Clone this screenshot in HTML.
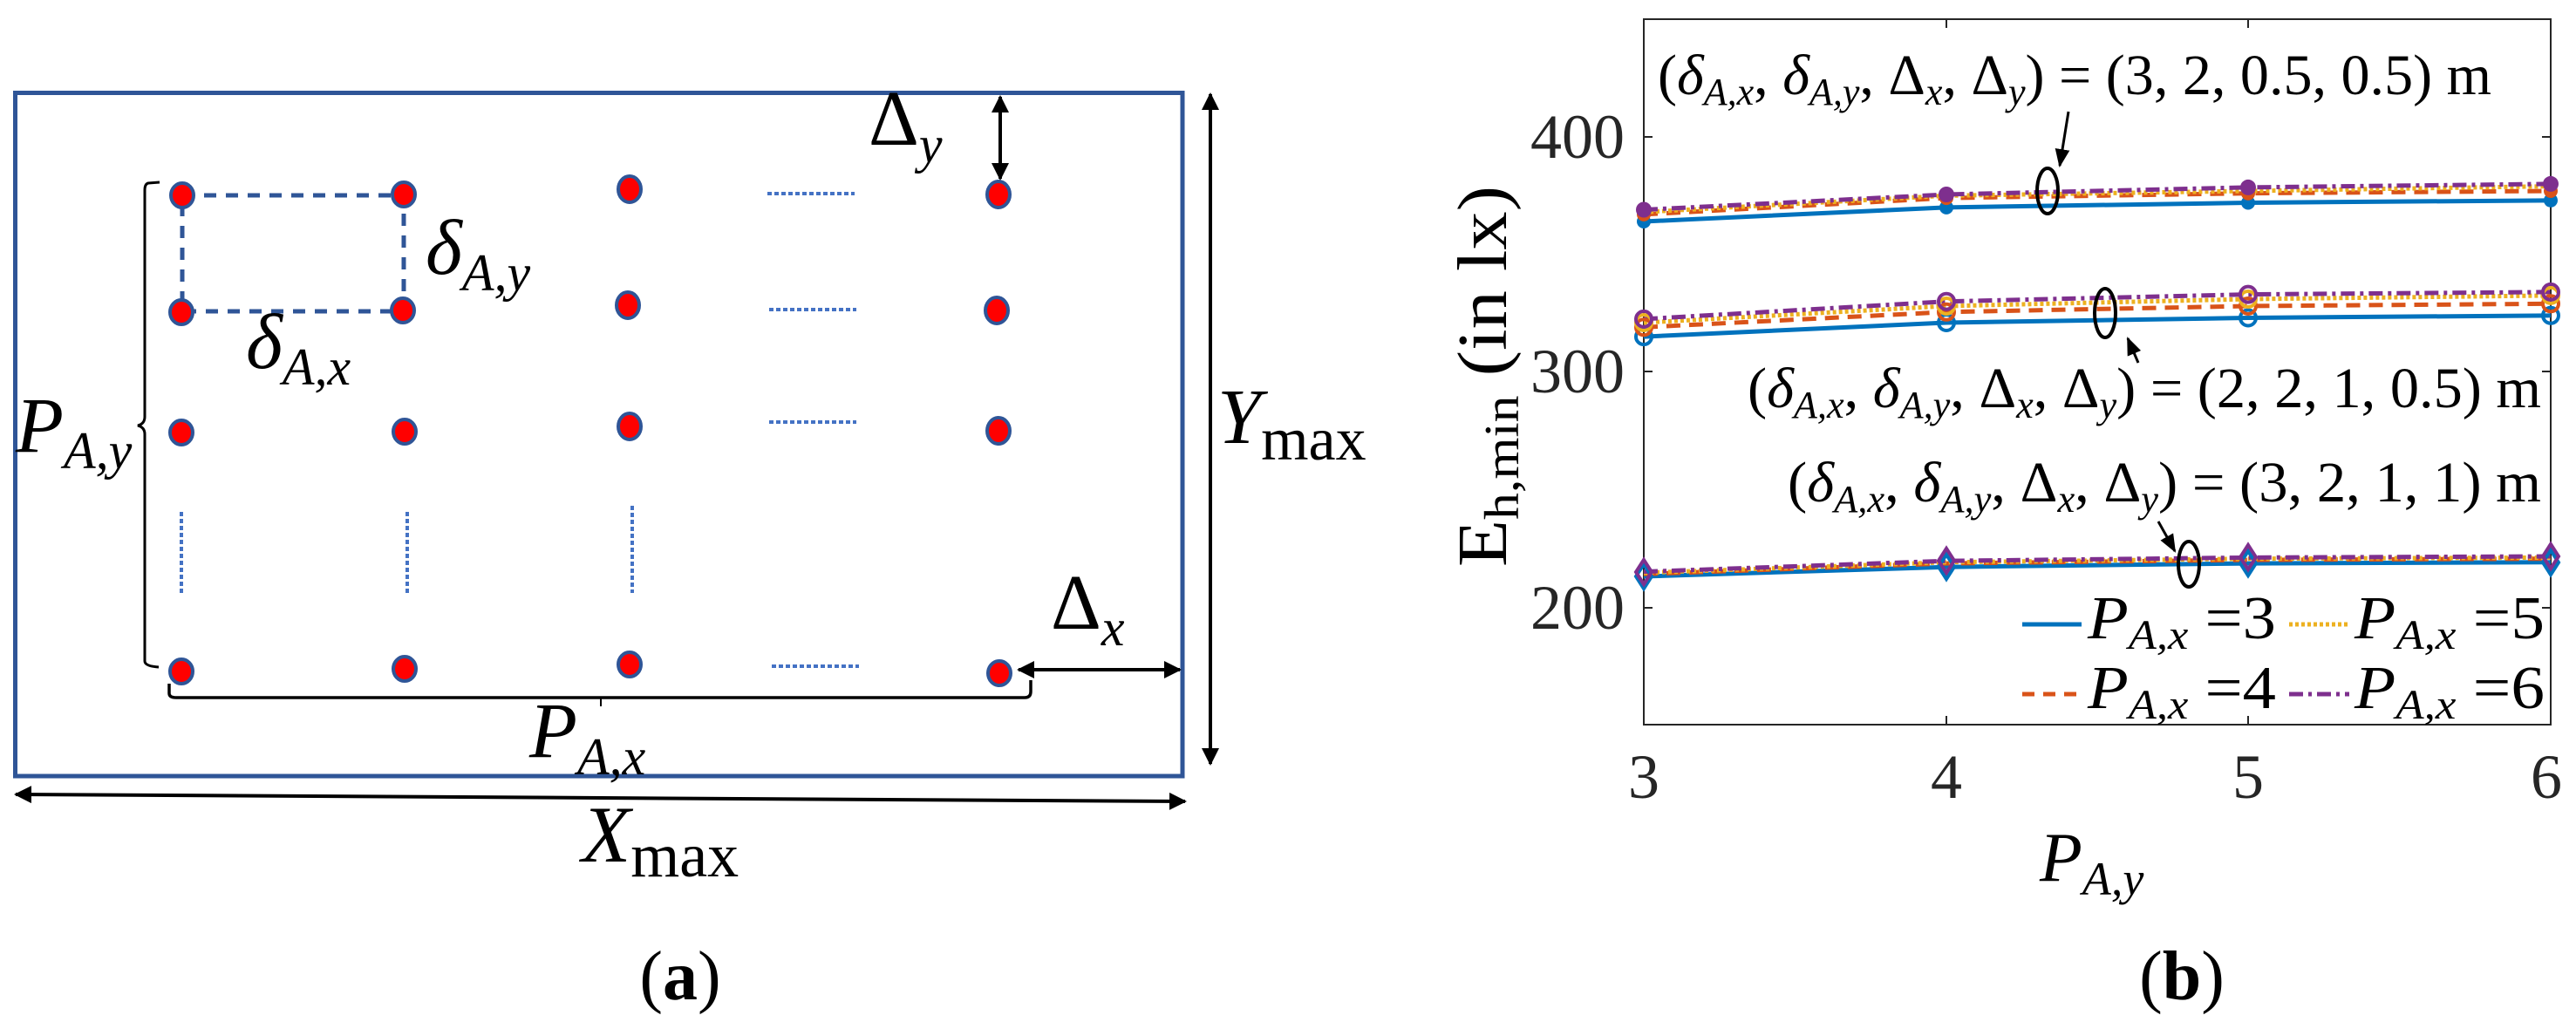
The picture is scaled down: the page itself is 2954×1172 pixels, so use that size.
<!DOCTYPE html>
<html><head><meta charset="utf-8"><style>
html,body{margin:0;padding:0;background:#fff;}
svg{display:block;}
text{font-family:"Liberation Serif",serif;fill:#000;}
.it{font-style:italic;}
.tk{font-size:72px;fill:#262626;}
</style></head><body>
<svg width="2954" height="1172" viewBox="0 0 2954 1172" xmlns="http://www.w3.org/2000/svg" font-family="Liberation Serif, serif">
<defs>
<marker id="ah" viewBox="0 0 10 10" refX="9" refY="5" markerWidth="5" markerHeight="5" orient="auto-start-reverse" markerUnits="strokeWidth"><path d="M0,0 L10,5 L0,10 z" fill="#000"/></marker>
<marker id="ah2" viewBox="0 0 10 10" refX="9" refY="5" markerWidth="7" markerHeight="7" orient="auto" markerUnits="strokeWidth"><path d="M0,1 L10,5 L0,9 z" fill="#000"/></marker>
</defs>

<!-- ===== Panel (a) ===== -->
<rect x="17.5" y="106.5" width="1338.5" height="783.5" fill="none" stroke="#2F5597" stroke-width="5"/>
<rect x="209" y="224" width="254" height="133" fill="none" stroke="#2F5597" stroke-width="5" stroke-dasharray="14 11"/>

<g fill="#FF0000" stroke="#2F5597" stroke-width="4">
<ellipse cx="209" cy="224" rx="13" ry="14"/><ellipse cx="463" cy="223" rx="13" ry="14"/><ellipse cx="722" cy="217" rx="13" ry="15"/><ellipse cx="1145" cy="223" rx="13" ry="15"/>
<ellipse cx="208" cy="358" rx="13" ry="14"/><ellipse cx="462" cy="356" rx="13" ry="14"/><ellipse cx="720" cy="350" rx="13" ry="15"/><ellipse cx="1143" cy="356" rx="13" ry="15"/>
<ellipse cx="208" cy="496" rx="13" ry="14"/><ellipse cx="464" cy="495" rx="13" ry="14"/><ellipse cx="722" cy="489" rx="13" ry="15"/><ellipse cx="1145" cy="494" rx="13" ry="15"/>
<ellipse cx="208" cy="770" rx="13" ry="14"/><ellipse cx="464" cy="767" rx="13" ry="14"/><ellipse cx="722" cy="762" rx="13" ry="14"/><ellipse cx="1146" cy="772" rx="13" ry="14"/>
</g>

<g stroke="#4472C4" stroke-width="4" stroke-dasharray="5 3" fill="none">
<line x1="880" y1="222" x2="980" y2="222"/>
<line x1="882" y1="355" x2="982" y2="355"/>
<line x1="882" y1="484" x2="982" y2="484"/>
<line x1="885" y1="764" x2="985" y2="764"/>
<line x1="208" y1="587" x2="208" y2="683"/>
<line x1="467" y1="587" x2="467" y2="683"/>
<line x1="725" y1="580" x2="725" y2="680"/>
</g>

<path d="M183,209 L170,210 Q166,211 166,218 L166,478 Q166,486 158,488 Q166,490 166,498 L166,758 Q166,764 182,765" fill="none" stroke="#000" stroke-width="3"/>
<path d="M194,784 L194,795 Q194,800 202,800 L1175,800 Q1182,800 1182,793 L1182,780" fill="none" stroke="#000" stroke-width="3.5"/>
<line x1="689" y1="800" x2="689" y2="810" stroke="#000" stroke-width="2"/>

<g stroke="#000" stroke-width="4" fill="none">
<line x1="1147" y1="111" x2="1147" y2="205" marker-start="url(#ah)" marker-end="url(#ah)"/>
<line x1="1388" y1="108" x2="1388" y2="876" marker-start="url(#ah)" marker-end="url(#ah)"/>
<line x1="1168" y1="768" x2="1353" y2="768" marker-start="url(#ah)" marker-end="url(#ah)"/>
<line x1="18" y1="911" x2="1359" y2="919" marker-start="url(#ah)" marker-end="url(#ah)"/>
</g>

<text x="996" y="166" font-size="90">Δ<tspan class="it" font-size="60" dy="20">y</tspan></text>
<text class="it" x="488" y="314" font-size="90">δ<tspan font-size="60" dy="19">A,y</tspan></text>
<text class="it" x="282" y="422" font-size="90">δ<tspan font-size="60" dy="19">A,x</tspan></text>
<text class="it" x="18" y="518" font-size="90">P<tspan font-size="60" dy="19">A,y</tspan></text>
<text x="1205" y="721" font-size="90">Δ<tspan class="it" font-size="60" dy="19">x</tspan></text>
<text class="it" x="607" y="868" font-size="90">P<tspan font-size="60" dy="20">A,x</tspan></text>
<text class="it" x="1396" y="508" font-size="90">Y<tspan font-style="normal" font-size="70" dy="19">max</tspan></text>
<text class="it" x="667" y="988" font-size="92">X<tspan font-style="normal" font-size="72" dy="17">max</tspan></text>
<text x="780" y="1146" font-size="80" text-anchor="middle">(<tspan font-weight="bold">a</tspan>)</text>

<!-- ===== Panel (b) ===== -->
<rect x="1885" y="22" width="1040" height="809" fill="none" stroke="#262626" stroke-width="2"/>
<g stroke="#262626" stroke-width="2">
<line x1="1885" y1="157" x2="1895" y2="157"/><line x1="1885" y1="426" x2="1895" y2="426"/><line x1="1885" y1="697" x2="1895" y2="697"/>
<line x1="2925" y1="157" x2="2915" y2="157"/><line x1="2925" y1="426" x2="2915" y2="426"/><line x1="2925" y1="697" x2="2915" y2="697"/>
<line x1="2232" y1="831" x2="2232" y2="821"/><line x1="2578" y1="831" x2="2578" y2="821"/>
<line x1="2232" y1="22" x2="2232" y2="32"/><line x1="2578" y1="22" x2="2578" y2="32"/>
</g>
<text class="tk" x="1863" y="181" text-anchor="end">400</text>
<text class="tk" x="1863" y="450" text-anchor="end">300</text>
<text class="tk" x="1863" y="721" text-anchor="end">200</text>
<text class="tk" x="1885" y="915" text-anchor="middle">3</text>
<text class="tk" x="2232" y="915" text-anchor="middle">4</text>
<text class="tk" x="2578" y="915" text-anchor="middle">5</text>
<text class="tk" x="2920" y="915" text-anchor="middle">6</text>

<text class="it" x="2339" y="1010" font-size="80" fill="#262626">P<tspan font-size="54" dy="16">A,y</tspan></text>
<text transform="translate(1727,650) rotate(-90)" font-size="80" fill="#262626" textLength="437" lengthAdjust="spacingAndGlyphs">E<tspan font-size="56" dy="14">h,min</tspan><tspan dy="-14"> (in lx)</tspan></text>
<text x="2502" y="1146" font-size="80" text-anchor="middle">(<tspan font-weight="bold">b</tspan>)</text>

<g fill="none" stroke-width="5">
<polyline points="1885,661 2232,650.2 2578,646.1 2925,644.8" stroke="#0072BD"/>
<polyline points="1885,658.3 2232,646.1 2578,642.1 2925,640.7" stroke="#D95319" stroke-dasharray="16 10"/>
<polyline points="1885,656.9 2232,644.8 2578,640.7 2925,639.4" stroke="#EDB120" stroke-dasharray="4 3"/>
<polyline points="1885,655.6 2232,643.2 2578,639.4 2925,638" stroke="#7E2F8E" stroke-dasharray="16 6 4 6"/>
<polyline points="1885,386.1 2232,370 2578,364.5 2925,361.8" stroke="#0072BD"/>
<polyline points="1885,375.3 2232,357.8 2578,351 2925,348.3" stroke="#D95319" stroke-dasharray="16 10"/>
<polyline points="1885,370 2232,351 2578,343 2925,338.9" stroke="#EDB120" stroke-dasharray="4 3"/>
<polyline points="1885,365.9 2232,345.7 2578,337.6 2925,334.9" stroke="#7E2F8E" stroke-dasharray="16 6 4 6"/>
<polyline points="1885,254 2232,237.9 2578,232.5 2925,229.8" stroke="#0072BD"/>
<polyline points="1885,245.9 2232,227.1 2578,221.7 2925,219" stroke="#D95319" stroke-dasharray="16 10"/>
<polyline points="1885,243.2 2232,224.4 2578,219 2925,213.6" stroke="#EDB120" stroke-dasharray="4 3"/>
<polyline points="1885,240.5 2232,223 2578,214.9 2925,210.9" stroke="#7E2F8E" stroke-dasharray="16 6 4 6"/>
</g>
<g>
<circle cx="1885" cy="254" r="8" fill="#0072BD"/><circle cx="2232" cy="237.9" r="8" fill="#0072BD"/><circle cx="2578" cy="232.5" r="8" fill="#0072BD"/><circle cx="2925" cy="229.8" r="8" fill="#0072BD"/>
<circle cx="1885" cy="245.9" r="8" fill="#D95319"/><circle cx="2232" cy="227.1" r="8" fill="#D95319"/><circle cx="2578" cy="221.7" r="8" fill="#D95319"/><circle cx="2925" cy="219" r="8" fill="#D95319"/>
<circle cx="1885" cy="240.5" r="9" fill="#7E2F8E"/><circle cx="2232" cy="223" r="9" fill="#7E2F8E"/><circle cx="2578" cy="214.9" r="9" fill="#7E2F8E"/><circle cx="2925" cy="210.9" r="9" fill="#7E2F8E"/>
</g>
<g fill="none" stroke-width="4">
<circle cx="1885" cy="386.1" r="9" stroke="#0072BD"/><circle cx="2232" cy="370" r="9" stroke="#0072BD"/><circle cx="2578" cy="364.5" r="9" stroke="#0072BD"/><circle cx="2925" cy="361.8" r="9" stroke="#0072BD"/>
<circle cx="1885" cy="375.3" r="9" stroke="#D95319"/><circle cx="2232" cy="357.8" r="9" stroke="#D95319"/><circle cx="2578" cy="351" r="9" stroke="#D95319"/><circle cx="2925" cy="348.3" r="9" stroke="#D95319"/>
<circle cx="1885" cy="370" r="9" stroke="#EDB120"/><circle cx="2232" cy="351" r="9" stroke="#EDB120"/><circle cx="2578" cy="343" r="9" stroke="#EDB120"/><circle cx="2925" cy="338.9" r="9" stroke="#EDB120"/>
<circle cx="1885" cy="365.9" r="9" stroke="#7E2F8E"/><circle cx="2232" cy="345.7" r="9" stroke="#7E2F8E"/><circle cx="2578" cy="337.6" r="9" stroke="#7E2F8E"/><circle cx="2925" cy="334.9" r="9" stroke="#7E2F8E"/>
</g>
<g fill="none" stroke-width="4">
<path d="M1885,647 l9,14 l-9,14 l-9,-14z M2232,636 l9,14 l-9,14 l-9,-14z M2578,632 l9,14 l-9,14 l-9,-14z M2925,631 l9,14 l-9,14 l-9,-14z" stroke="#0072BD"/>
<path d="M1885,642 l9,14 l-9,14 l-9,-14z M2232,629 l9,14 l-9,14 l-9,-14z M2578,625 l9,14 l-9,14 l-9,-14z M2925,624 l9,14 l-9,14 l-9,-14z" stroke="#7E2F8E"/>
</g>

<g fill="none" stroke="#000" stroke-width="4">
<ellipse cx="2348" cy="219" rx="12" ry="26"/>
<ellipse cx="2414" cy="359" rx="12" ry="28"/>
<ellipse cx="2510" cy="647" rx="12" ry="26"/>
<line x1="2372" y1="128" x2="2362" y2="190" marker-end="url(#ah2)" stroke-width="3"/>
<line x1="2452" y1="416" x2="2440" y2="388" marker-end="url(#ah2)" stroke-width="3"/>
<line x1="2475" y1="598" x2="2494" y2="632" marker-end="url(#ah2)" stroke-width="3"/>
</g>

<text x="1901" y="108" font-size="66" textLength="956" lengthAdjust="spacingAndGlyphs">(<tspan class="it">δ</tspan><tspan class="it" font-size="44" dy="12">A,x</tspan><tspan dy="-12">, </tspan><tspan class="it">δ</tspan><tspan class="it" font-size="44" dy="12">A,y</tspan><tspan dy="-12">, Δ</tspan><tspan class="it" font-size="44" dy="12">x</tspan><tspan dy="-12">, Δ</tspan><tspan class="it" font-size="44" dy="12">y</tspan><tspan dy="-12">) = (3, 2, 0.5, 0.5) m</tspan></text>
<text x="2004" y="467" font-size="66" textLength="910" lengthAdjust="spacingAndGlyphs">(<tspan class="it">δ</tspan><tspan class="it" font-size="44" dy="12">A,x</tspan><tspan dy="-12">, </tspan><tspan class="it">δ</tspan><tspan class="it" font-size="44" dy="12">A,y</tspan><tspan dy="-12">, Δ</tspan><tspan class="it" font-size="44" dy="12">x</tspan><tspan dy="-12">, Δ</tspan><tspan class="it" font-size="44" dy="12">y</tspan><tspan dy="-12">) = (2, 2, 1, 0.5) m</tspan></text>
<text x="2050" y="575" font-size="66" textLength="864" lengthAdjust="spacingAndGlyphs">(<tspan class="it">δ</tspan><tspan class="it" font-size="44" dy="12">A,x</tspan><tspan dy="-12">, </tspan><tspan class="it">δ</tspan><tspan class="it" font-size="44" dy="12">A,y</tspan><tspan dy="-12">, Δ</tspan><tspan class="it" font-size="44" dy="12">x</tspan><tspan dy="-12">, Δ</tspan><tspan class="it" font-size="44" dy="12">y</tspan><tspan dy="-12">) = (3, 2, 1, 1) m</tspan></text>

<g stroke-width="5" fill="none">
<line x1="2319" y1="716" x2="2387" y2="716" stroke="#0072BD"/>
<line x1="2625" y1="716" x2="2694" y2="716" stroke="#EDB120" stroke-dasharray="4 3"/>
<line x1="2319" y1="796" x2="2387" y2="796" stroke="#D95319" stroke-dasharray="14 10"/>
<line x1="2625" y1="796" x2="2694" y2="796" stroke="#7E2F8E" stroke-dasharray="16 6 4 6"/>
</g>
<text x="2394" y="732" font-size="70" textLength="216" lengthAdjust="spacingAndGlyphs"><tspan class="it">P</tspan><tspan class="it" font-size="48" dy="12">A,x</tspan><tspan dy="-12"> =3</tspan></text>
<text x="2700" y="732" font-size="70" textLength="218" lengthAdjust="spacingAndGlyphs"><tspan class="it">P</tspan><tspan class="it" font-size="48" dy="12">A,x</tspan><tspan dy="-12"> =5</tspan></text>
<text x="2394" y="812" font-size="70" textLength="216" lengthAdjust="spacingAndGlyphs"><tspan class="it">P</tspan><tspan class="it" font-size="48" dy="12">A,x</tspan><tspan dy="-12"> =4</tspan></text>
<text x="2700" y="812" font-size="70" textLength="218" lengthAdjust="spacingAndGlyphs"><tspan class="it">P</tspan><tspan class="it" font-size="48" dy="12">A,x</tspan><tspan dy="-12"> =6</tspan></text>
</svg>
</body></html>
